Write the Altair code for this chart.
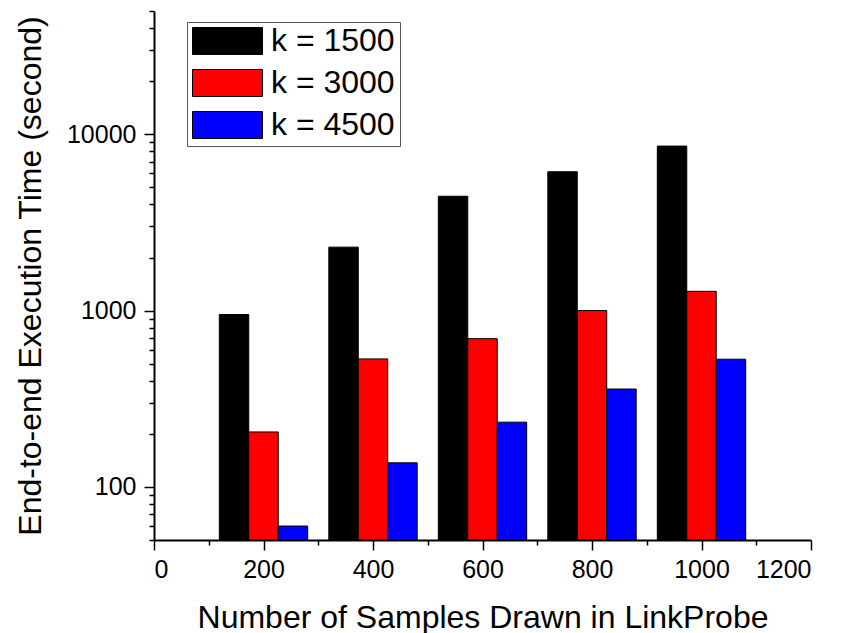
import altair as alt
import pandas as pd

samples = [200, 400, 600, 800, 1000]
series_names = ["k = 1500", "k = 3000", "k = 4500"]
k1500 = [950, 2290, 4450, 6130, 8570]
k3000 = [205, 532, 693, 1000, 1286]
k4500 = [60, 137, 233, 359, 530]
colors = ["#000000", "#ff0000", "#0000ff"]

y_ticks = [50, 60, 70, 80, 90,
           100, 200, 300, 400, 500, 600, 700, 800, 900,
           1000, 2000, 3000, 4000, 5000, 6000, 7000, 8000, 9000,
           10000, 20000, 30000, 40000, 50000]
x_ticks = [0, 100, 200, 300, 400, 500, 600, 700, 800, 900, 1000, 1100, 1200]

rows = []
for idx, (name, vals) in enumerate(zip(series_names, [k1500, k3000, k4500])):
    for s, v in zip(samples, vals):
        rows.append({"sample": s, "series": name, "idx": idx, "value": v})
df = pd.DataFrame(rows)

BW = 53.8  # bar width in x data units

FONT = "Liberation Sans"

bars = alt.Chart(df).transform_calculate(
    x0=f"datum.sample + (datum.idx - 1) * {BW} - {BW/2}",
    x1=f"datum.sample + (datum.idx - 1) * {BW} + {BW/2}",
).mark_bar(stroke="black", strokeWidth=1).encode(
    x=alt.X("x0:Q",
            scale=alt.Scale(domain=[0, 1200], nice=False, zero=False),
            axis=alt.Axis(
                title="Number of Samples Drawn in LinkProbe",
                values=x_ticks,
                labelExpr="datum.value % 200 == 0 ? datum.label : ''",
                tickSize={"condition": {"test": "datum.value % 200 == 0", "value": 10}, "value": 5},
                labelPadding=7,
                titlePadding=20,
                format="d",
            )),
    x2="x1:Q",
    y=alt.Y("value:Q",
            scale=alt.Scale(type="log", domain=[50, 50000], nice=False),
            axis=alt.Axis(
                title="End-to-end Execution Time (second)",
                values=y_ticks,
                labelExpr="(datum.value == 100 || datum.value == 1000 || datum.value == 10000) ? datum.label : ''",
                tickSize={"condition": {"test": "datum.value == 100 || datum.value == 1000 || datum.value == 10000", "value": 10}, "value": 5},
                format="d",
                labelPadding=8,
                titlePadding=19,
            )),
    y2=alt.datum(50),
    color=alt.Color("series:N",
                    scale=alt.Scale(domain=series_names, range=colors),
                    legend=alt.Legend(
                        title=None,
                        orient="none",
                        legendX=33,
                        legendY=11,
                        strokeColor="#555555",
                        padding=5,
                        symbolType="M-1,-0.386L1,-0.386L1,0.386L-1,0.386Z",
                        symbolSize=4900,
                        symbolStrokeColor="black",
                        symbolStrokeWidth=1,
                        symbolOpacity=1,
                        labelFont=FONT,
                        labelFontSize=32,
                        labelColor="black",
                        labelOffset=8,
                        clipHeight=28,
                        rowPadding=10,
                    )),
).properties(
    width=657,
    height=529,
    padding={"left": 6, "top": 2, "right": 5, "bottom": 2},
).configure_view(
    stroke=None
).configure_axis(
    grid=False,
    domainColor="black",
    domainWidth=2,
    tickColor="black",
    tickWidth=1.5,
    labelFont=FONT,
    labelFontSize=25,
    labelColor="black",
    titleFont=FONT,
    titleFontSize=32,
    titleFontWeight="normal",
    titleColor="black",
)

chart = bars
chart.save("out.html", embed_options={"renderer": "svg", "actions": False})
